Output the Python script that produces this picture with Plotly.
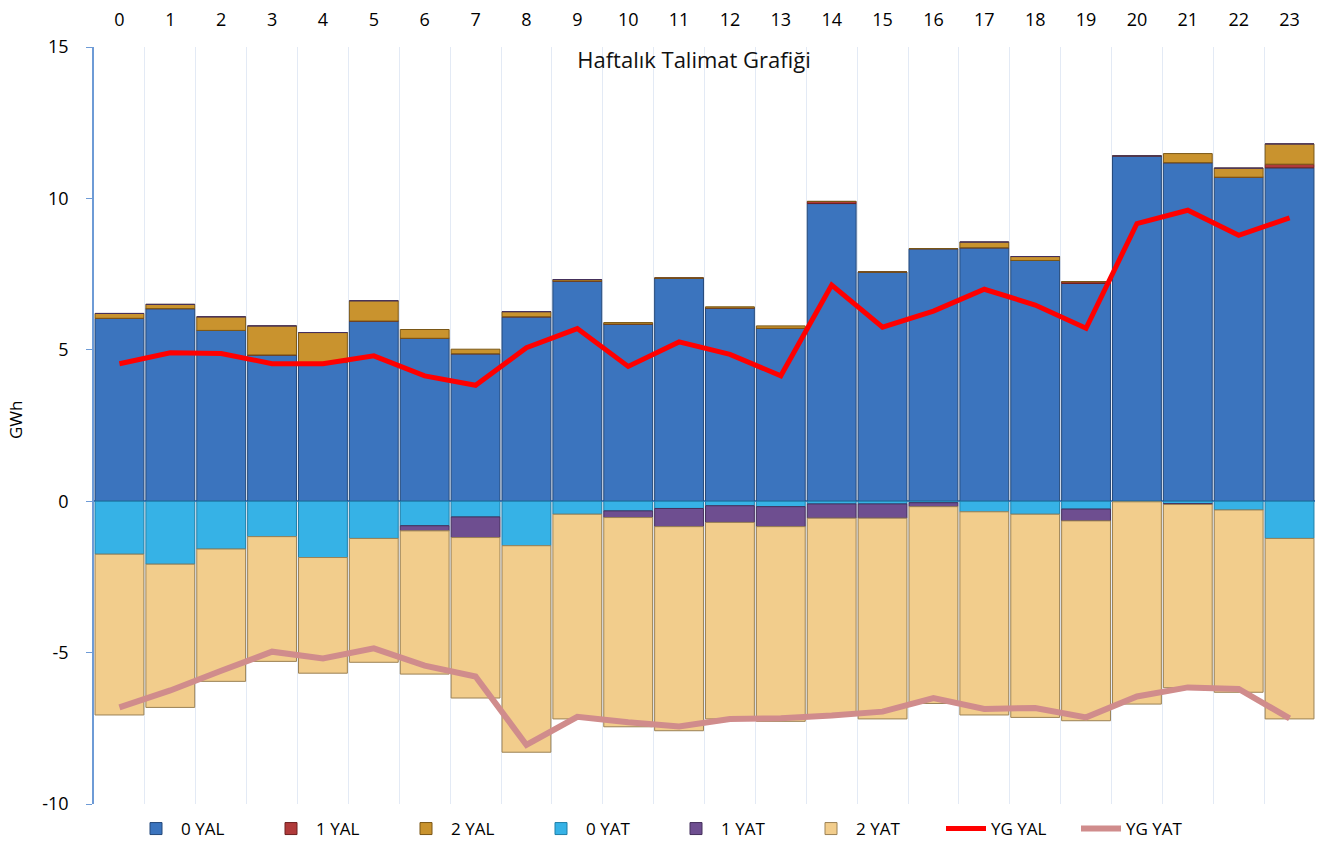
import plotly.graph_objects as go

hours = list(range(24))
hour_labels = [str(h) for h in hours]
y_ticks = [-10, -5, 0, 5, 10, 15]
y_tick_labels = ["-10", "-5", "0", "5", "10", "15"]

yal0 = [6.04, 6.36, 5.64, 4.83, 4.58, 5.95, 5.38, 4.87, 6.09, 7.27, 5.85, 7.37,
        6.38, 5.71, 9.83, 7.57, 8.34, 8.37, 7.95, 7.19, 11.40, 11.18, 10.70, 11.01]
yal1 = [0, 0, 0, 0, 0, 0, 0, 0, 0, 0, 0, 0,
        0, 0, 0.07, 0, 0, 0, 0, 0.06, 0, 0, 0, 0.12]
yal2 = [0.16, 0.14, 0.45, 0.96, 0.99, 0.67, 0.29, 0.15, 0.17, 0.05, 0.05, 0,
        0.04, 0.08, 0, 0, 0, 0.19, 0.13, 0, 0, 0.30, 0.30, 0.67]
yat0 = [-1.75, -2.08, -1.58, -1.17, -1.86, -1.23, -0.81, -0.52, -1.47, -0.43, -0.32, -0.24,
        -0.15, -0.18, -0.09, -0.09, -0.05, -0.35, -0.43, -0.26, -0.02, -0.08, -0.29, -1.23]
yat1 = [0, 0, 0, 0, 0, 0, -0.17, -0.68, 0, 0, -0.22, -0.60,
        -0.55, -0.66, -0.47, -0.47, -0.13, 0, 0, -0.39, 0, -0.03, 0, 0]
yat2 = [-5.31, -4.73, -4.37, -4.12, -3.82, -4.09, -4.73, -5.30, -6.82, -6.76, -6.91, -6.74,
        -6.49, -6.43, -6.50, -6.63, -6.50, -6.71, -6.71, -6.60, -6.68, -6.05, -6.02, -5.96]
yg_yal = [4.54, 4.90, 4.88, 4.54, 4.54, 4.80, 4.14, 3.83, 5.07, 5.70, 4.45, 5.26,
          4.85, 4.14, 7.14, 5.75, 6.28, 7.00, 6.48, 5.71, 9.17, 9.61, 8.78, 9.36]
yg_yat = [-6.81, -6.25, -5.60, -4.97, -5.19, -4.86, -5.43, -5.79, -8.05, -7.12, -7.30, -7.44,
          -7.19, -7.17, -7.08, -6.95, -6.50, -6.86, -6.83, -7.14, -6.45, -6.15, -6.20, -7.17]

bar_series = [
    ("0 YAL", yal0, "#3B74BE", "#24497A"),
    ("1 YAL", yal1, "#B03A3A", "#6E2020"),
    ("2 YAL", yal2, "#C9932E", "#7A5716"),
    ("0 YAT", yat0, "#36B2E6", "#1F7FA8"),
    ("1 YAT", yat1, "#6E4E90", "#45305C"),
    ("2 YAT", yat2, "#F2CD8C", "#9C8255"),
]

fig = go.Figure()
for name, vals, color, edge in bar_series:
    fig.add_trace(go.Bar(
        x=hours, y=vals, name=name,
        marker=dict(color=color, line=dict(color=edge, width=1)),
    ))

fig.add_trace(go.Scatter(x=hours, y=yg_yal, name="YG YAL", mode="lines",
                         line=dict(color="#FF0000", width=5)))
fig.add_trace(go.Scatter(x=hours, y=yg_yat, name="YG YAT", mode="lines",
                         line=dict(color="#D08C8C", width=6)))

font_family = "Open Sans, Liberation Sans, sans-serif"
L, R, T, B = 94, 8, 47, 39
plot_w = 1323 - L - R
plot_h = 843 - T - B

fig.update_layout(
    width=1323, height=843,
    barmode="relative", bargap=0.04,
    plot_bgcolor="white", paper_bgcolor="white",
    margin=dict(l=L, r=R, t=T, b=B, autoexpand=False),
    font=dict(family=font_family, size=18, color="#000000"),
    title=dict(text="Haftalık Talimat Grafiği", x=694 / 1323, xanchor="center",
               y=1 - 60 / 843, yanchor="middle",
               font=dict(size=22, color="#111111")),
    showlegend=True,
    legend=dict(orientation="h", x=(671 - L) / plot_w, xanchor="center",
                y=-(829 - (843 - B)) / plot_h, yanchor="middle",
                font=dict(size=17), itemwidth=40,
                entrywidth=80, entrywidthmode="pixels",
                bgcolor="rgba(0,0,0,0)"),
    xaxis=dict(
        side="top", range=[-0.5, 23.5], tickmode="array", tickvals=hours, ticktext=hour_labels,
        showgrid=False, showline=False, ticks="", zeroline=False, automargin=False,
        tickfont=dict(size=18), ticklabelstandoff=16, tickangle=0,
        minor=dict(tickmode="array", tickvals=[h + 0.5 for h in hours[:-1]],
                   showgrid=True, gridcolor="#E3EAF5", gridwidth=1, ticks=""),
    ),
    yaxis=dict(
        range=[-10, 15], tickmode="array", tickvals=y_ticks, ticktext=y_tick_labels,
        showgrid=False, showline=True, linecolor="#6E9BD6", linewidth=1.5,
        ticks="outside", ticklen=6, tickcolor="#6E9BD6",
        zeroline=True, zerolinecolor="#4F81C7", zerolinewidth=2,
        tickfont=dict(size=18), automargin=False, ticklabelstandoff=14,
    ),
    annotations=[dict(text="GWh", textangle=-90, xref="paper", yref="paper",
                      x=(15 - L) / plot_w, y=(843 - B - 420) / plot_h,
                      xanchor="center", yanchor="middle", showarrow=False,
                      font=dict(size=17))],
)

fig.write_html("out.html", config={"displayModeBar": False},
               post_script="document.body.style.margin='0px';")
